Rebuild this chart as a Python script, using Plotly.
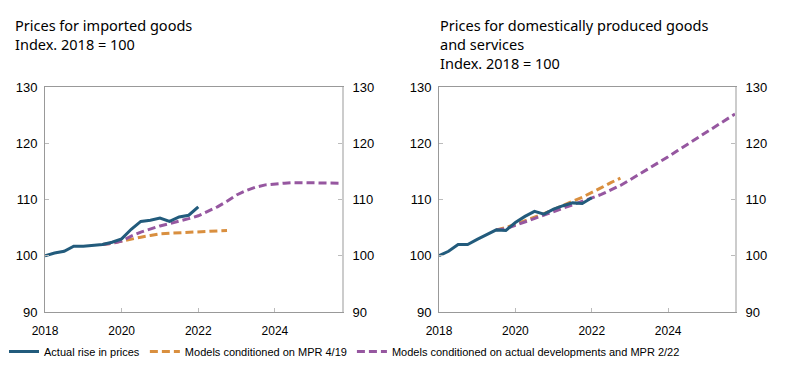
import plotly.graph_objects as go

# ---- data ----
q_actual = [2018 + 0.25 * i for i in range(17)]          # 2018Q1 .. 2022Q1
q_mpr419 = [2019.5 + 0.25 * i for i in range(14)]        # 2019Q3 .. 2022Q4
q_mpr222 = [2019.5 + 0.25 * i for i in range(26)]        # 2019Q3 .. 2025Q4

imp_actual = [100.0, 100.5, 100.8, 101.7, 101.7, 101.9, 102.0, 102.4, 103.0,
              104.7, 106.1, 106.3, 106.7, 106.1, 106.9, 107.2, 108.7]
imp_mpr419 = [102.0, 102.2, 102.6, 103.0, 103.3, 103.6, 103.9, 104.0, 104.1,
              104.2, 104.25, 104.3, 104.4, 104.5]
imp_mpr222 = [102.0, 102.2, 102.6, 103.5, 104.2, 104.8, 105.3, 105.7, 106.1,
              106.6, 107.1, 107.9, 108.7, 109.7, 110.8, 111.6, 112.2, 112.6,
              112.8, 112.9, 113.0, 113.0, 113.0, 113.0, 112.9, 112.9]

dom_actual = [100.0, 100.8, 102.0, 102.0, 102.9, 103.7, 104.6, 104.5, 105.9,
              107.0, 107.9, 107.4, 108.3, 108.9, 109.4, 109.3, 110.3]
dom_mpr419 = [104.6, 105.0, 105.6, 106.2, 106.8, 107.5, 108.2, 109.0, 109.7,
              110.4, 111.2, 112.1, 113.0, 113.8]
dom_mpr222 = [104.6, 104.8, 105.4, 106.0, 106.6, 107.2, 107.9, 108.5, 109.0,
              109.6, 110.3, 110.9, 111.7, 112.5, 113.5, 114.5, 115.5, 116.6,
              117.6, 118.7, 119.8, 120.9, 122.0, 123.1, 124.2, 125.2]

x_ticks = [2018, 2020, 2022, 2024]
y_ticks = [90, 100, 110, 120, 130]
names = ["Actual rise in prices", "Models conditioned on MPR 4/19",
         "Models conditioned on actual developments and MPR 2/22"]
title_left = "Prices for imported goods<br>Index. 2018 = 100"
title_right = "Prices for domestically produced goods<br>and services<br>Index. 2018 = 100"

BLUE = "#225b7c"
ORANGE = "#d98f3f"
PURPLE = "#9657a0"
DASH = "8px,4px"
ARIAL = "Liberation Sans, Arial, sans-serif"
TITLEFONT = "Noto Sans, Open Sans, sans-serif"

fig = go.Figure()

panels = [
    ("x", "y", imp_actual, imp_mpr419, imp_mpr222),
    ("x2", "y3", dom_actual, dom_mpr419, dom_mpr222),
]
for k, (xa, ya, act, m419, m222) in enumerate(panels):
    show = k == 0
    fig.add_trace(go.Scatter(x=q_mpr419, y=m419, xaxis=xa, yaxis=ya, mode="lines",
                             name=names[1], legendrank=2, showlegend=show,
                             line=dict(color=ORANGE, width=3, dash=DASH)))
    fig.add_trace(go.Scatter(x=q_mpr222, y=m222, xaxis=xa, yaxis=ya, mode="lines",
                             name=names[2], legendrank=3, showlegend=show,
                             line=dict(color=PURPLE, width=3, dash=DASH)))
    fig.add_trace(go.Scatter(x=q_actual, y=act, xaxis=xa, yaxis=ya, mode="lines",
                             name=names[0], legendrank=1, showlegend=show,
                             line=dict(color=BLUE, width=3)))

# dummy traces for right-hand axes
fig.add_trace(go.Scatter(x=[2018], y=[None], xaxis="x", yaxis="y2", showlegend=False, hoverinfo="skip"))
fig.add_trace(go.Scatter(x=[2018], y=[None], xaxis="x2", yaxis="y4", showlegend=False, hoverinfo="skip"))

# page body has an 8px margin, so the figure is drawn 8px smaller and offset
OFF = 8
# plot area in page pixels: left panel x 45..342, right panel x 439..735, y 87..312
PW = 690.0
PH = 225.0
dom1 = [0, 297 / PW]
dom2 = [394 / PW, 1]

xcommon = dict(range=[2018, 2025.75], tickvals=x_ticks, ticks="inside", ticklen=4,
               tickcolor="#bbbbbb", showline=True, linecolor="#999999", linewidth=1,
               mirror=True, showgrid=False, zeroline=False, ticklabelstandoff=8,
               tickfont=dict(family=ARIAL, size=12, color="#000"))
yleft = dict(range=[90, 130], tickvals=y_ticks, ticks="inside", ticklen=4,
             tickcolor="#bbbbbb", showline=True, linecolor="#999999", linewidth=1,
             showgrid=False, zeroline=False, ticklabelstandoff=4,
             tickfont=dict(family=ARIAL, size=13, color="#000"))
yright = dict(range=[90, 130], tickvals=y_ticks, ticks="inside", ticklen=4,
              tickcolor="#bbbbbb", showline=True, linecolor="#cccccc", linewidth=2,
              showgrid=False, zeroline=False, side="right", ticklabelstandoff=6,
              tickfont=dict(family=ARIAL, size=13, color="#000"))


def title_ann(text, px, top):
    return dict(text=text, xref="paper", yref="paper",
                x=(px - 45) / PW, y=(312 - top) / PH,
                xanchor="left", yanchor="top", align="left", showarrow=False,
                font=dict(family=TITLEFONT, size=14.5, color="#000"))


fig.update_layout(
    width=797 - OFF, height=372 - OFF,
    margin=dict(l=45 - OFF, r=62, t=87 - OFF, b=60, autoexpand=False),
    paper_bgcolor="white", plot_bgcolor="white",
    xaxis=dict(domain=dom1, anchor="y", **xcommon),
    xaxis2=dict(domain=dom2, anchor="y3", **xcommon),
    yaxis=dict(domain=[0, 1], anchor="x", **yleft),
    yaxis2=dict(domain=[0, 1], anchor="x", overlaying="y", **yright),
    yaxis3=dict(domain=[0, 1], anchor="x2", **yleft),
    yaxis4=dict(domain=[0, 1], anchor="x2", overlaying="y3", **yright),
    showlegend=True,
    legend=dict(orientation="h", x=(4 - 45) / PW, xanchor="left",
                y=(312 - 337) / PH, yanchor="top",
                font=dict(family=ARIAL, size=11, color="#000"),
                itemwidth=30, tracegroupgap=0, bgcolor="rgba(0,0,0,0)"),
    annotations=[title_ann(title_left, 13, 13), title_ann(title_right, 438, 13)],
)

fig.write_html("out.html")
